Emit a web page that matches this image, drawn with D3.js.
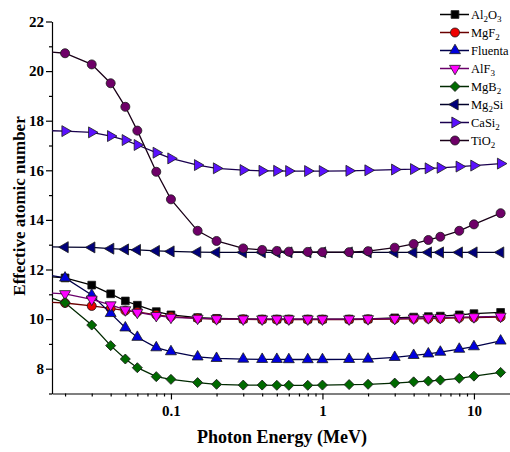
<!DOCTYPE html>
<html>
<head>
<meta charset="utf-8">
<script src="https://cdn.jsdelivr.net/npm/d3@7"></script>
<style>
  html, body { margin: 0; padding: 0; background: #fff; }
</style>
</head>
<body>
<svg id="chart" width="510" height="452"></svg>
<script>
// Photon energies (MeV)
const energies = [0.015, 0.02, 0.03, 0.04, 0.05, 0.06, 0.08, 0.1, 0.15, 0.2, 0.3, 0.4, 0.5, 0.6, 0.8, 1, 1.5, 2, 3, 4, 5, 6, 8, 10, 15];

// Effective atomic number of each material
const al2o3   = [11.72, 11.66, 11.37, 11.02, 10.73, 10.56, 10.30, 10.17, 10.06, 10.03, 10.01, 10.00, 10.00, 10.00, 10.00, 10.00, 10.00, 10.01, 10.05, 10.08, 10.10, 10.12, 10.17, 10.22, 10.27];
const mgf2    = [10.68, 10.65, 10.53, 10.43, 10.34, 10.29, 10.17, 10.10, 10.03, 10.00, 9.99, 9.98, 9.98, 9.98, 9.98, 9.98, 9.98, 9.99, 10.00, 10.01, 10.02, 10.03, 10.05, 10.06, 10.08];
const fluenta = [11.80, 11.66, 10.97, 10.23, 9.65, 9.27, 8.85, 8.69, 8.48, 8.42, 8.39, 8.38, 8.38, 8.37, 8.37, 8.37, 8.38, 8.39, 8.46, 8.54, 8.60, 8.67, 8.79, 8.89, 9.12];
const alf3    = [11.06, 11.02, 10.80, 10.57, 10.37, 10.27, 10.14, 10.07, 10.03, 10.01, 10.00, 10.00, 10.00, 10.00, 10.00, 10.00, 10.00, 10.01, 10.02, 10.04, 10.05, 10.06, 10.08, 10.09, 10.11];
const mgb2    = [10.92, 10.66, 9.76, 8.93, 8.39, 8.04, 7.68, 7.57, 7.44, 7.37, 7.34, 7.34, 7.33, 7.33, 7.33, 7.34, 7.36, 7.37, 7.42, 7.47, 7.50, 7.54, 7.61, 7.70, 7.85];
const mg2si   = [12.92, 12.90, 12.89, 12.84, 12.81, 12.79, 12.75, 12.73, 12.70, 12.69, 12.69, 12.69, 12.69, 12.69, 12.69, 12.69, 12.69, 12.69, 12.69, 12.69, 12.69, 12.69, 12.69, 12.69, 12.69];
const casi2   = [17.60, 17.58, 17.53, 17.38, 17.22, 17.02, 16.71, 16.48, 16.21, 16.08, 16.01, 15.98, 15.98, 15.97, 15.97, 15.97, 15.98, 16.00, 16.03, 16.05, 16.08, 16.10, 16.15, 16.19, 16.27];
const tio2    = [20.78, 20.72, 20.27, 19.51, 18.56, 17.60, 15.94, 14.83, 13.56, 13.15, 12.85, 12.79, 12.75, 12.72, 12.71, 12.70, 12.70, 12.74, 12.88, 13.03, 13.19, 13.32, 13.56, 13.82, 14.27];

// Legend names: [text, isSubscript] pieces
const seriesNames = [
  [["Al", false], ["2", true], ["O", false], ["3", true]],
  [["MgF", false], ["2", true]],
  [["Fluenta", false]],
  [["AlF", false], ["3", true]],
  [["MgB", false], ["2", true]],
  [["Mg", false], ["2", true], ["Si", false]],
  [["CaSi", false], ["2", true]],
  [["TiO", false], ["2", true]]
];
const seriesValues = [al2o3, mgf2, fluenta, alf3, mgb2, mg2si, casi2, tio2];
const fillColors = ["#000000", "#ee0000", "#0000dd", "#ff00ff", "#006a00", "#00007a", "#5a10ff", "#6e0068"];
const lineColors = ["#000000", "#6a0000", "#00004a", "#6a006a", "#002a00", "#00002a", "#1a0050", "#1a0018"];
const symbolKinds = ["square", "circle", "up", "down", "diamond", "left", "right", "circle"];

const yTickValues = [8, 10, 12, 14, 16, 18, 20, 22];
const xTickValues = [0.1, 1, 10];
const xTickLabels = ["0.1", "1", "10"];

const FONT = "'Liberation Serif', 'Times New Roman', Times, serif";
const svg = d3.select("#chart");
const mLeft = 52, mRight = 510, mTop = 21.5, mBottom = 393.5;

const x = d3.scaleLog().domain([0.0164, 17.3]).range([mLeft, mRight]);
const y = d3.scaleLinear().domain([7, 22]).range([mBottom, mTop]);

// clip data to the plotting area
svg.append("defs").append("clipPath").attr("id", "plotclip")
  .append("rect").attr("x", mLeft).attr("y", 0).attr("width", mRight - mLeft).attr("height", mBottom);

function symbolPath(kind) {
  const sizes = { square: 60, circle: 64, up: 52, down: 52, left: 52, right: 52, diamond: 50 };
  const type = kind === "circle" ? d3.symbolCircle
            : (kind === "square" || kind === "diamond") ? d3.symbolSquare
            : d3.symbolTriangle;
  return d3.symbol().type(type).size(sizes[kind])();
}
function symbolRotate(kind) {
  return { down: 180, left: -90, right: 90, diamond: 45 }[kind] || 0;
}

// axes
const yMinor = d3.range(7, 22, 2);
const xMinor = [];
[0.01, 0.1, 1, 10].forEach(d => {
  for (let k = 2; k <= 9; k++) {
    const v = d * k;
    if (v >= x.domain()[0] && v <= x.domain()[1]) xMinor.push(v);
  }
});

const yAxis = svg.append("g").attr("transform", `translate(${mLeft},0)`)
  .call(d3.axisLeft(y).tickValues(yTickValues).tickFormat(d3.format("d")).tickSize(6).tickSizeOuter(0));
svg.append("g").attr("transform", `translate(${mLeft},0)`)
  .call(d3.axisLeft(y).tickValues(yMinor).tickFormat("").tickSize(3).tickSizeOuter(0))
  .select(".domain").remove();

const xAxis = svg.append("g").attr("transform", `translate(0,${mBottom})`)
  .call(d3.axisBottom(x).tickValues(xTickValues).tickFormat((d, i) => xTickLabels[i]).tickSize(6).tickSizeOuter(0));
svg.append("g").attr("transform", `translate(0,${mBottom})`)
  .call(d3.axisBottom(x).tickValues(xMinor).tickFormat("").tickSize(3).tickSizeOuter(0))
  .select(".domain").remove();

svg.selectAll(".domain, .tick line").attr("stroke", "#000").attr("stroke-width", 1.2);
yAxis.selectAll("text").attr("font-size", 15).attr("font-weight", "bold").attr("x", -8).attr("fill", "#000");
xAxis.selectAll("text").attr("font-size", 15).attr("font-weight", "bold").attr("y", 12).attr("fill", "#000");

// axis titles
svg.append("text").attr("x", 282).attr("y", 443).attr("text-anchor", "middle")
  .attr("font-size", 18).attr("font-weight", "bold").text("Photon Energy (MeV)");
svg.append("text").attr("transform", "translate(25,206) rotate(-90)").attr("text-anchor", "middle")
  .attr("font-size", 17).attr("font-weight", "bold").text("Effective atomic number");

// series
const plot = svg.append("g").attr("clip-path", "url(#plotclip)");
const line = d3.line().x(d => x(d[0])).y(d => y(d[1]));

seriesValues.forEach((vals, i) => {
  const pts = energies.map((e, j) => [e, vals[j]]);
  const g = plot.append("g");
  g.append("path").datum(pts).attr("d", line).attr("fill", "none")
    .attr("stroke", lineColors[i]).attr("stroke-width", 1.3);
  g.selectAll("path.m").data(pts).enter().append("path").attr("class", "m")
    .attr("d", symbolPath(symbolKinds[i]))
    .attr("transform", d => `translate(${x(d[0])},${y(d[1])}) rotate(${symbolRotate(symbolKinds[i])})`)
    .attr("fill", fillColors[i]).attr("stroke", "#1a1a1a").attr("stroke-width", 0.8);
});

// legend
const legend = svg.append("g");
seriesNames.forEach((parts, i) => {
  const ly = 14.5 + i * 18;
  const g = legend.append("g").attr("transform", `translate(0,${ly})`);
  g.append("line").attr("x1", 440).attr("x2", 469).attr("y1", 0).attr("y2", 0)
    .attr("stroke", lineColors[i]).attr("stroke-width", 1.5);
  g.append("path").attr("d", symbolPath(symbolKinds[i]))
    .attr("transform", `translate(455,0) rotate(${symbolRotate(symbolKinds[i])})`)
    .attr("fill", fillColors[i]).attr("stroke", "#1a1a1a").attr("stroke-width", 0.8);
  const t = g.append("text").attr("x", 471).attr("y", 4).attr("font-size", 12.5);
  let shift = 0;
  parts.forEach(([s, sub]) => {
    t.append("tspan")
      .attr("font-size", sub ? 9 : 12.5)
      .attr("dy", sub ? 3 - shift : -shift)
      .text(s);
    shift = sub ? 3 : 0;
  });
});

// one serif face for every label, including the axis groups
svg.selectAll("g").filter(function () { return this.hasAttribute("font-family"); }).attr("font-family", null);
svg.selectAll("text").attr("font-family", FONT);
</script>
</body>
</html>
